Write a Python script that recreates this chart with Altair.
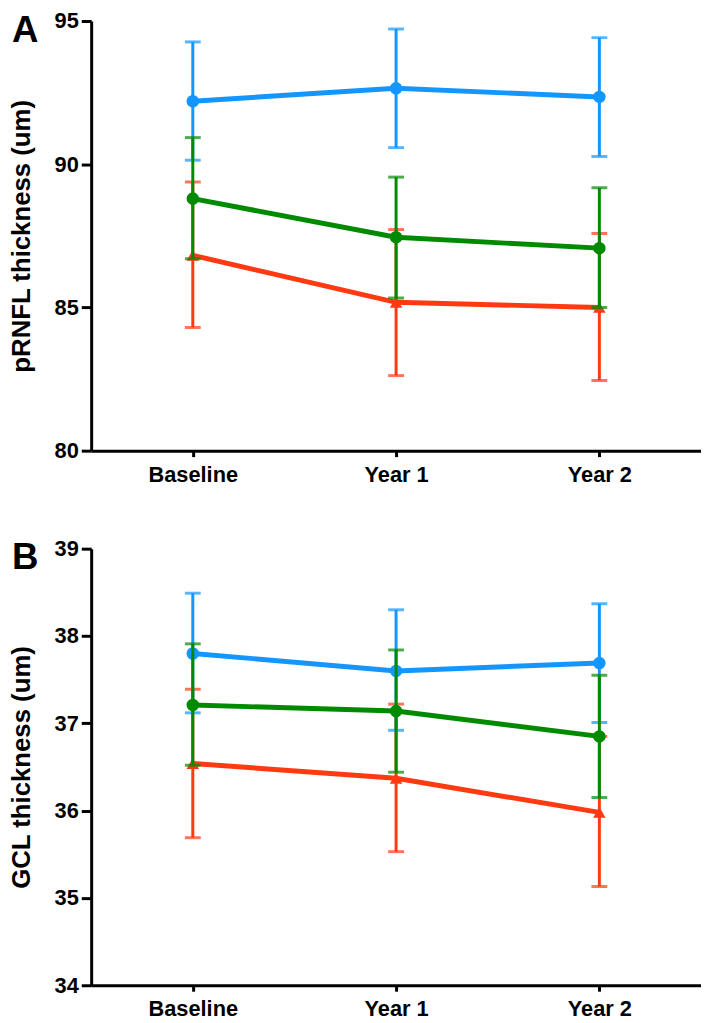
import altair as alt
import pandas as pd

times = ["Baseline", "Year 1", "Year 2"]
groups = ["red", "blue", "green"]  # drawing order

# Panel A: pRNFL thickness
a_mean = {"blue": [92.2, 92.65, 92.35], "green": [88.8, 87.45, 87.07], "red": [86.82, 85.18, 85.0]}
a_lo = {"blue": [90.14, 90.58, 90.27], "green": [86.7, 85.33, 85.0], "red": [84.3, 82.62, 82.45]}
a_hi = {"blue": [94.27, 94.72, 94.42], "green": [90.93, 89.55, 89.18], "red": [89.38, 87.72, 87.58]}

# Panel B: GCL thickness
b_mean = {"blue": [37.8, 37.6, 37.69], "green": [37.21, 37.14, 36.85], "red": [36.54, 36.37, 35.98]}
b_lo = {"blue": [37.12, 36.92, 37.01], "green": [36.52, 36.44, 36.15], "red": [35.69, 35.53, 35.13]}
b_hi = {"blue": [38.49, 38.3, 38.37], "green": [37.91, 37.84, 37.55], "red": [37.39, 37.22, 36.85]}

colors = {"blue": "#1496FF", "green": "#008A00", "red": "#FF3A12"}
shapes = {"blue": "circle", "green": "circle", "red": "triangle-up"}

W = 616
FONT = "Liberation Sans"


def panel(mean, lo, hi, domain, ticks, title, letter, H):
    xs = alt.X("time:N", sort=times,
               scale=alt.Scale(type="point", domain=times, padding=0.5),
               axis=alt.Axis(title=None, labelFontSize=22, labelFontWeight="bold",
                             labelFont=FONT, labelColor="black", labelAngle=0,
                             domainColor="black", domainWidth=3, tickColor="black",
                             tickWidth=3, tickSize=6, labelPadding=8))
    ys = alt.Scale(domain=domain, nice=False, zero=False)
    yaxis = alt.Axis(title=title, values=ticks, grid=False, labelFontSize=22,
                     labelFontWeight="bold", labelFont=FONT, labelColor="black",
                     titleFontSize=26, titleFont=FONT, titleFontWeight="bold",
                     titleColor="black", domainColor="black", domainWidth=3,
                     tickColor="black", tickWidth=3, tickSize=10, labelPadding=3,
                     titlePadding=20)
    layers = []
    for g in groups:
        df = pd.DataFrame({"time": times, "mean": mean[g], "lo": lo[g], "hi": hi[g]})
        base = alt.Chart(df)
        rule = base.mark_rule(color=colors[g], strokeWidth=3).encode(
            x=xs, y=alt.Y("lo:Q", scale=ys, axis=yaxis), y2="hi:Q")
        cap_lo = base.mark_tick(color=colors[g], size=16, thickness=3).encode(
            x=xs, y=alt.Y("lo:Q", scale=ys, axis=yaxis))
        cap_hi = base.mark_tick(color=colors[g], size=16, thickness=3).encode(
            x=xs, y=alt.Y("hi:Q", scale=ys, axis=yaxis))
        line = base.mark_line(color=colors[g], strokeWidth=5).encode(
            x=xs, y=alt.Y("mean:Q", scale=ys, axis=yaxis))
        pts = base.mark_point(color=colors[g], filled=True, opacity=1, size=160,
                              shape=shapes[g]).encode(
            x=xs, y=alt.Y("mean:Q", scale=ys, axis=yaxis))
        layers += [line, rule, cap_lo, cap_hi, pts]
    lab = alt.Chart(pd.DataFrame({"t": [letter]})).mark_text(
        fontSize=37, fontWeight="bold", font=FONT, align="left", baseline="top",
        color="black").encode(x=alt.value(-80), y=alt.value(-8), text="t:N")
    layers.append(lab)
    return alt.layer(*layers).properties(width=W, height=H)


pA = panel(a_mean, a_lo, a_hi, [80, 95], [80, 85, 90, 95], "pRNFL thickness (um)", "A", 434)
pB = panel(b_mean, b_lo, b_hi, [34, 39], [34, 35, 36, 37, 38, 39], "GCL thickness (um)", "B", 441)

chart = alt.vconcat(pA, pB, spacing=53).properties(
    padding={"left": 0, "top": -3, "right": 0, "bottom": 0},
    background="white").configure_view(stroke=None)

chart.save("out.html", embed_options={"renderer": "svg", "actions": False})
